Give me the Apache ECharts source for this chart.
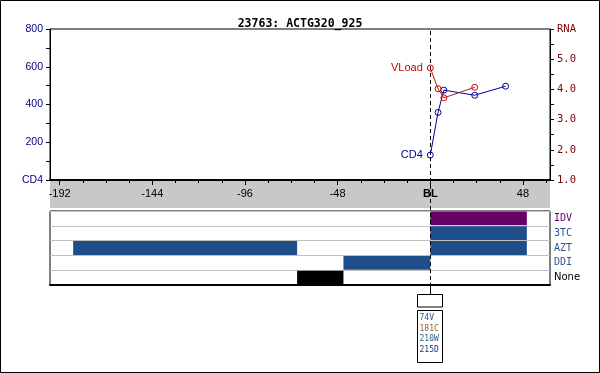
<!DOCTYPE html>
<html><head><meta charset="utf-8">
<script src="https://cdn.jsdelivr.net/npm/echarts@6/dist/echarts.min.js"></script>
<style>html,body{margin:0;padding:0;background:#fff}#c{width:600px;height:373px}</style>
</head><body><div id="c"></div>
<script>
const titleText = '23763: ACTG320_925';
const cd4Weeks = [0, 4, 7, 23, 39];
const cd4Values = [132, 358, 476, 449, 497];
const rnaWeeks = [0, 4, 7, 23];
const rnaValues = [4.71, 4.02, 3.72, 4.07];
const xTickLabels = [-192, -144, -96, -48, 0, 48];
const xMinorTicks = [-180, -168, -156, -132, -120, -108, -84, -72, -60, -36, -24, -12, 12, 24, 36, 60];
const drugs = ['None', 'DDI', 'AZT', '3TC', 'IDV'];
const treatDrug = ['IDV', '3TC', 'AZT', 'AZT', 'DDI', 'None'];
const treatStart = [0, 0, -185, 0, -45, -69];
const treatEnd = [50, 50, -69, 50, 0, -45];
const mutations = ['74V', '181C', '210W', '215D'];

const X_MIN = -197, X_MAX = 62;
const drugColors = { IDV: '#660066', '3TC': '#1f4f8a', AZT: '#1f4f8a', DDI: '#1f4f8a', None: '#000000' };
const drugTextColors = { IDV: '#660066', '3TC': '#2f5590', AZT: '#2f5590', DDI: '#2f5590', None: '#000000' };
const mutColors = ['#2f5590', '#8a6530', '#2a5f85', '#1f3a6e'];

const chart = echarts.init(document.getElementById('c'), null, { renderer: 'canvas' });

const grids = [
  { left: 50, top: 29, width: 500, height: 151, show: true, borderColor: '#000', borderWidth: 1 },
  { left: 50, top: 211, width: 500, height: 74, show: true, borderColor: '#000', borderWidth: 1 },
  { left: 50, top: 29, width: 500, height: 265, show: false }
];
const noZero = { onZero: false };

const option = {
  animation: false,
  backgroundColor: '#fff',
  title: {
    text: titleText, left: 'center', top: 13,
    textStyle: { fontFamily: 'DejaVu Sans Mono', fontWeight: 'bold', fontSize: 11.5, color: '#000' }
  },
  grid: grids,
  xAxis: [
    { type: 'value', gridIndex: 0, min: X_MIN, max: X_MAX, position: 'bottom',
      axisLine: { show: true, onZero: false, lineStyle: { color: '#000', width: 2 } },
      axisTick: { show: true, length: 5, lineStyle: { color: '#000' }, customValues: xTickLabels },
      axisLabel: { show: true, customValues: xTickLabels, margin: 8, color: '#000', fontFamily: 'Liberation Sans', fontSize: 11,
        formatter: v => v === 0 ? '{b|BL}' : String(v),
        rich: { b: { fontWeight: 'bold', fontFamily: 'Liberation Sans', fontSize: 11, color: '#000' } } },
      splitLine: { show: false } },
    { type: 'value', gridIndex: 0, min: X_MIN, max: X_MAX, position: 'bottom',
      axisLine: { show: false, onZero: false },
      axisTick: { show: true, length: 3, lineStyle: { color: '#000' }, customValues: xMinorTicks },
      axisLabel: { show: false }, splitLine: { show: false } },
    { type: 'value', gridIndex: 1, min: X_MIN, max: X_MAX, position: 'bottom',
      axisLine: { show: true, onZero: false, lineStyle: { color: '#000', width: 2 } },
      axisTick: { show: false }, axisLabel: { show: false }, splitLine: { show: false } },
    { type: 'value', gridIndex: 2, min: X_MIN, max: X_MAX, show: false, axisLine: noZero }
  ],
  yAxis: [
    { type: 'value', gridIndex: 0, min: 0, max: 800, interval: 200, position: 'left',
      axisLine: { show: true, onZero: false, lineStyle: { color: '#000' } },
      axisTick: { show: true, length: 4, lineStyle: { color: '#000' } },
      minorTick: { show: true, splitNumber: 2, length: 4, lineStyle: { color: '#000' } },
      axisLabel: { margin: 7, color: '#000080', fontFamily: 'Liberation Sans', fontSize: 10.5,
        formatter: v => v === 0 ? 'CD4' : String(v) },
      splitLine: { show: false } },
    { type: 'value', gridIndex: 0, min: 1, max: 6, interval: 1, position: 'right',
      axisLine: { show: true, onZero: false, lineStyle: { color: '#000' } },
      axisTick: { show: true, length: 4, lineStyle: { color: '#000' } },
      minorTick: { show: true, splitNumber: 2, length: 4, lineStyle: { color: '#000' } },
      axisLabel: { margin: 7, color: '#800000', fontFamily: 'DejaVu Sans Mono', fontSize: 10.5,
        formatter: v => v === 6 ? 'RNA' : v.toFixed(1) },
      splitLine: { show: false } },
    { type: 'category', gridIndex: 1, data: drugs, position: 'right',
      axisLine: { show: false, onZero: false }, axisTick: { show: false },
      axisLabel: { margin: 4, fontFamily: 'DejaVu Sans Mono', fontSize: 10,
        formatter: v => '{' + (v === 'IDV' ? 'p' : v === 'None' ? 'k' : 'b') + '|' + v + '}',
        rich: {
          p: { color: drugTextColors.IDV, fontFamily: 'DejaVu Sans Mono', fontSize: 10 },
          b: { color: drugTextColors.AZT, fontFamily: 'DejaVu Sans Mono', fontSize: 10 },
          k: { color: '#000', fontFamily: 'DejaVu Sans', fontSize: 10 }
        } },
      splitLine: { show: true, lineStyle: { color: '#c0c0c0', width: 1 } } },
    { type: 'value', gridIndex: 2, min: 0, max: 1, show: false, axisLine: noZero }
  ],
  series: [
    { type: 'custom', xAxisIndex: 2, yAxisIndex: 2, z: 2,
      data: treatStart.map((s, i) => [s, treatEnd[i], drugs.indexOf(treatDrug[i])]),
      encode: { x: [0, 1], y: 2 },
      renderItem: (params, api) => {
        const r = api.value(2);
        const a = api.coord([api.value(0), r]);
        const b = api.coord([api.value(1), r]);
        const h = api.size([0, 1])[1];
        return { type: 'rect', shape: { x: a[0], y: a[1] - h / 2 + 0.5, width: b[0] - a[0], height: h - 1 },
          style: { fill: drugColors[drugs[r]] } };
      } },
    { type: 'line', xAxisIndex: 3, yAxisIndex: 3, data: [[0, 0.5]], showSymbol: false, lineStyle: { opacity: 0 }, z: 5,
      markLine: { symbol: 'none', silent: true, label: { show: false },
        lineStyle: { color: '#000', width: 1, type: [4, 3] }, data: [{ xAxis: 0 }] } },
    { name: 'CD4', type: 'line', xAxisIndex: 0, yAxisIndex: 0, z: 6,
      data: cd4Weeks.map((w, i) => [w, cd4Values[i]]),
      symbol: 'circle', symbolSize: 6, showAllSymbol: true,
      lineStyle: { color: '#0000a0', width: 1 },
      itemStyle: { color: 'rgba(0,0,0,0)', borderColor: '#0000a0', borderWidth: 1 },
      label: { show: true, position: 'left', distance: 4, color: '#000090', fontFamily: 'Liberation Sans', fontSize: 11,
        formatter: p => p.dataIndex === 0 ? 'CD4' : '' } },
    { name: 'VLoad', type: 'line', xAxisIndex: 0, yAxisIndex: 1, z: 7,
      data: rnaWeeks.map((w, i) => [w, rnaValues[i]]),
      symbol: 'circle', symbolSize: 6, showAllSymbol: true,
      lineStyle: { color: '#b01818', width: 1 },
      itemStyle: { color: 'rgba(0,0,0,0)', borderColor: '#dd0000', borderWidth: 1 },
      label: { show: true, position: 'left', distance: 4, color: '#cc0000', fontFamily: 'Liberation Sans', fontSize: 11,
        formatter: p => p.dataIndex === 0 ? 'VLoad' : '' } }
  ]
};
chart.setOption(option);

const px = chart.convertToPixel({ xAxisIndex: 0 }, 0);
const bx = Math.round(px) - 12.5;
const g = [
  { type: 'rect', z: -10, shape: { x: 50, y: 181, width: 500, height: 27 }, style: { fill: '#c8c8c8' } },
  { type: 'rect', z: 50, shape: { x: 0.5, y: 0.5, width: 599, height: 372 }, style: { fill: 'none', stroke: '#000', lineWidth: 1 } },
  { type: 'line', z: 50, shape: { x1: Math.round(px) + 0.5, y1: 285, x2: Math.round(px) + 0.5, y2: 294 }, style: { stroke: '#000', lineWidth: 1 } },
  { type: 'rect', z: 50, shape: { x: bx, y: 294.5, width: 25, height: 12.5 }, style: { fill: '#fff', stroke: '#000', lineWidth: 1 } },
  { type: 'rect', z: 50, shape: { x: bx, y: 310.5, width: 25, height: 52 }, style: { fill: '#fff', stroke: '#000', lineWidth: 1 } }
];
mutations.forEach((m, i) => {
  g.push({ type: 'text', z: 51, x: bx + 2, y: 318 + i * 10.6,
    style: { text: m, fill: mutColors[i], font: '8px "DejaVu Sans Mono"', textVerticalAlign: 'middle', verticalAlign: 'middle' } });
});
chart.setOption({ graphic: { elements: g } });
</script></body></html>
